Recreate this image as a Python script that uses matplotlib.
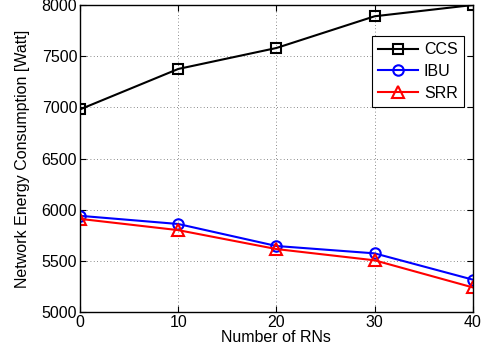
import matplotlib
matplotlib.use("Agg")
import matplotlib.pyplot as plt

plt.rcParams['font.family'] = ['Liberation Sans', 'DejaVu Sans']

rns = [0, 10, 20, 30, 40]
ccs = [6980, 7375, 7580, 7890, 8000]
ibu = [5940, 5860, 5645, 5573, 5316]
srr = [5910, 5800, 5615, 5505, 5240]

fig = plt.figure(figsize=(4.89, 3.58), dpi=100)
ax = fig.add_axes([0.1636, 0.1285, 0.8034, 0.8575])

ax.plot(rns, ccs, color='black', marker='s', markersize=7, markerfacecolor='none',
        markeredgewidth=1.5, linewidth=1.5, label='CCS')
ax.plot(rns, ibu, color='blue', marker='o', markersize=7.5, markerfacecolor='none',
        markeredgewidth=1.5, linewidth=1.5, label='IBU')
ax.plot(rns, srr, color='red', marker='^', markersize=8.5, markerfacecolor='none',
        markeredgewidth=1.5, linewidth=1.5, label='SRR')

ax.set_xlim(0, 40)
ax.set_ylim(5000, 8000)
ax.set_xticks(rns)
ax.set_yticks([5000, 5500, 6000, 6500, 7000, 7500, 8000])
ax.grid(True, linestyle=(0, (1, 3)), color='0.4', linewidth=0.6)
ax.tick_params(direction='in', top=True, right=True, labelsize=11.5, length=4, pad=2)
for s in ax.spines.values():
    s.set_linewidth(1.0)

ax.set_xlabel('Number of RNs', fontsize=11.5, labelpad=0)
ax.set_ylabel('Network Energy Consumption [Watt]', fontsize=11.5, labelpad=8)

leg = ax.legend(loc='upper right', bbox_to_anchor=(0.9775, 0.9), fontsize=11.5,
                fancybox=False, edgecolor='black', framealpha=1, handlelength=2.5,
                borderpad=0.4, labelspacing=0.42, handletextpad=0.35, borderaxespad=0)
leg.get_frame().set_linewidth(0.8)

fig.savefig('out.png', dpi=100)
